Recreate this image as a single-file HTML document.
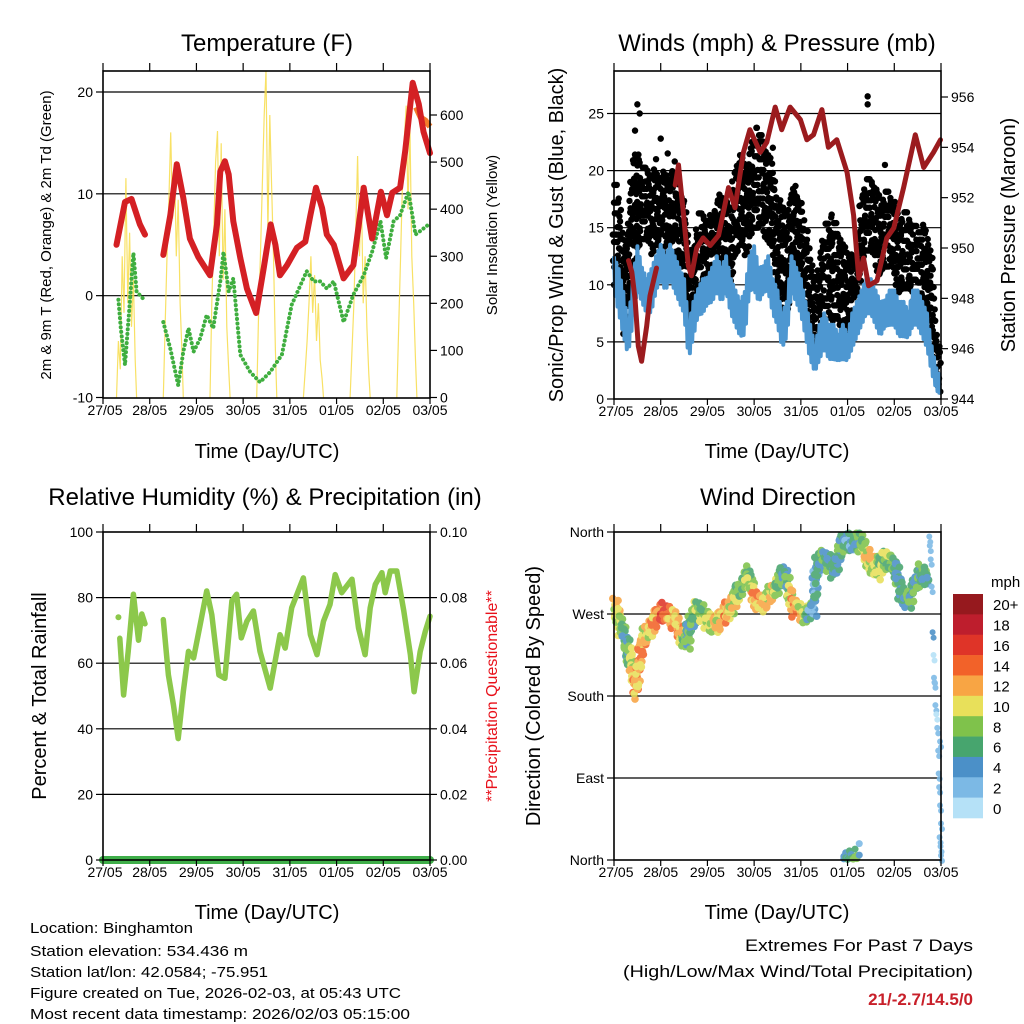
<!DOCTYPE html>
<html><head><meta charset="utf-8"><style>
html,body{margin:0;padding:0;background:#fff;}
svg{display:block;font-family:"Liberation Sans",sans-serif;}
</style></head><body>
<svg id="fig" width="1024" height="1024" viewBox="0 0 1024 1024"></svg>
<script>
// ---------- DATA ----------
const dayLabels = ["27/05","28/05","29/05","30/05","31/05","01/05","02/05","03/05"];
const tempDays = [0.29,0.47,0.61,0.79,0.9,null,1.29,1.44,1.58,1.72,1.86,2.04,2.29,2.44,2.51,2.61,2.69,2.79,2.94,3.08,3.28,3.44,3.59,3.69,3.79,3.94,4.15,4.33,4.44,4.56,4.69,4.79,4.94,5.15,5.36,5.58,5.76,5.95,6.08,6.19,6.36,6.47,6.63,6.76,6.86,7.0];
const tempVals = [5.0,9.2,9.5,7.0,6.0,null,4.0,7.9,12.9,9.6,5.6,3.8,2.0,7.0,12.2,13.2,11.9,7.3,3.7,0.7,-1.7,2.7,7.0,5.0,2.0,3.0,4.7,5.3,7.9,10.6,8.6,6.0,5.0,1.7,3.0,10.6,5.6,10.2,7.9,10.1,10.6,14.2,20.9,18.8,16.1,14.0];
const temp9Days = [6.7,6.8,6.9,7.0];
const temp9Vals = [18.5,17.5,17.2,16.6];
const dewDays = [0.33,0.38,0.47,0.58,0.65,0.72,0.86,null,1.29,1.44,1.61,1.72,1.83,1.94,2.08,2.22,2.36,2.51,2.58,2.69,2.79,2.94,3.15,3.36,3.58,3.83,4.04,4.36,4.51,4.65,4.79,4.94,5.15,5.36,5.58,5.76,5.94,6.06,6.22,6.36,6.54,6.69,6.86,7.0];
const dewVals = [-0.4,-3.2,-6.8,-0.3,4.2,0.4,-0.3,null,-2.6,-5.2,-8.8,-5.5,-3.2,-5.5,-4.2,-1.9,-3.2,1.4,4.3,0.4,1.7,-5.8,-7.5,-8.5,-7.5,-5.8,-0.9,2.4,1.4,1.4,0.7,1.4,-2.6,0.1,2.0,4.3,7.3,3.7,7.3,7.9,10.2,6.0,6.6,7.1];
const solarFrac = [0.29,0.33,0.37,0.41,0.45,0.49,0.53,0.57,0.61,0.65,0.69,0.72];
const solarD0 = [0,120,60,300,180,466,200,350,150,250,80,0];
const solarD1 = [0,150,300,420,563,380,500,300,420,200,100,0];
const solarD2 = [0,200,350,500,566,300,540,250,400,150,60,0];
const solarD3 = [0,180,300,450,600,694,350,600,450,300,100,0];
const solarD4 = [0,60,120,200,300,180,260,120,200,80,40,0];
const solarD5 = [0,100,200,350,513,300,450,200,300,150,50,0];
const solarD6 = [0,150,300,450,550,620,400,580,300,200,80,0];
const gustHi = [19,18,14,16,21,22,20,21,20,21,20,21,20,20,19,18,14,13,16,16,15,16,18,19,18,17,21,22,21,22,23,24,23,22,21,18,17,16,19,19,18,15,13,10,13,15,16,16,15,14,13,13,14,19,20,20,19,17,19,18,17,15,16,16,15,15,16,15,13,6,4];
const gustLo = [10,10,6,8,12,13,14,14,13,14,13,14,13,12,11,10,6,7,10,10,9,10,11,12,11,10,13,14,13,14,15,15,15,14,13,10,8,7,11,12,11,8,5,3,6,8,8,7,7,6,5,6,7,12,13,13,12,11,12,12,11,9,10,10,9,9,9,8,6,2,0];
const gustOutDays = [0.5,0.55,0.9,1.15,2.95,5.43,5.43,1.3,3.4,5.8,0.45,1.0];
const gustOutVals = [25.8,25.0,21.0,21.5,22.5,26.5,25.8,20.8,22.0,20.5,23.5,22.8];
const sonicHi = [13,12,10,7,11,14,12,11,12,13,14,13,14,13,12,11,7,9,10,11,11,12,13,12,13,11,10,9,10,13,14,12,12,13,11,10,8,9,13,12,11,9,7,5,7,8,7,7,6,7,6,8,9,10,11,11,10,9,9,10,10,9,9,8,10,10,9,8,5,3,2];
const sonicLo = [9,7,5,3.5,6,9,8,7,7,9,10,9,10,9,8,7,3,5,7,7,8,8,9,8,9,7,6,5,5,9,9,8,9,9,7,6,4,5,9,8,7,5,3,2,3,4,3,3,3,3,3,4,5,6,7,7,6,5,6,6,6,5,5,5,6,6,5,4,2,0.5,0];
const presDays = [0.31,0.38,0.45,0.52,0.59,0.7,0.77,0.91,null,1.31,1.38,1.49,1.59,1.66,1.77,1.91,2.06,2.24,2.45,2.59,2.77,2.91,3.13,3.27,3.45,3.59,3.77,3.99,4.13,4.27,4.45,4.59,4.77,4.99,5.13,5.24,5.34,5.45,5.63,5.84,5.99,6.2,6.45,6.63,6.84,6.99];
const presVals = [949.5,949.05,948.0,946.1,945.5,946.9,948.1,949.2,null,952.5,953.3,951.3,949.3,948.9,950.0,950.4,950.1,950.5,952.4,951.6,953.8,954.7,953.8,954.2,955.6,954.7,955.6,955.1,954.3,954.5,955.5,954.0,954.3,953.0,951.3,948.8,949.6,948.5,948.7,950.4,950.8,952.4,954.5,953.2,953.8,954.3];
const rhDays = [0.36,0.44,0.54,0.65,0.76,0.83,0.9,null,1.29,1.4,1.51,1.61,1.72,1.83,1.94,2.08,2.22,2.33,2.48,2.61,2.76,2.86,2.96,3.08,3.22,3.36,3.58,3.79,3.9,4.04,4.29,4.44,4.58,4.72,4.86,4.97,5.11,5.33,5.47,5.61,5.72,5.83,5.97,6.04,6.15,6.29,6.44,6.58,6.66,6.79,6.9,7.0];
const rhVals = [67.6,50.3,63.6,81,67,75,72,null,73.3,56.4,47.2,37,51.3,63.6,61.6,71.8,82,74.8,56.4,55.4,79,81,67.7,72.8,75.9,63.6,52.4,68.7,64.6,76.9,86,68.7,62.6,72.8,77.9,87,81.5,85.6,70.8,62.6,76.9,84,87.6,81.5,88.1,88.1,75.9,62.6,51.3,63.6,69.7,74.3];
const precipVals = [0,0];
const dirDays = [0.02,0.13,0.27,0.38,0.45,0.56,0.7,0.84,1.06,1.27,1.41,1.56,1.63,1.77,1.99,2.2,2.41,2.56,2.7,2.84,2.99,3.2,3.41,3.56,3.7,3.84,4.06,4.27,4.34,4.49,4.7,4.84,5.06,5.27,5.41,5.63,5.77,5.99,6.13,6.34,6.56,6.7];
const dirVals = [280,258,232,214,185,228,250,261,274,265,247,240,258,276,261,258,272,283,298,313,287,280,294,313,305,276,269,276,324,331,316,346,349,349,331,316,331,324,291,284,316,309];
const dirSpeed = [10,9,5,10,12,13,10,12,15,12,12,6,6,8,9,10,12,10,7,7,12,11,10,7,6,13,9,3,5,6,5,6,4,7,10,9,8,7,5,6,6,5];
const dirLateDays = [6.75,6.76,6.78,6.8,6.82,6.84,6.85,6.86,6.88,6.9,6.92,6.94,6.95,6.96,6.98,7.0,6.97,6.99,7.0,6.98];
const dirLateVals = [355,345,330,300,250,225,200,195,170,160,145,120,95,80,60,40,25,15,5,130];
const dirLateSpeed = [2,1,2,1,3,0,2,1,1,0,2,1,2,2,1,2,2,1,2,1];
const dirNorthDays = [4.92,4.96,5.0,5.04,5.08,5.12,5.16,5.2,5.25];
const dirNorthVals = [4,8,2,10,6,3,12,5,18];
const dirNorthSpeed = [3,4,4,5,4,6,6,7,2];
const speedColors = ["#b5e1f7","#7cb9e5","#4b90c8","#47a56e","#7fc24b","#e8e05a","#f8a544","#f26229","#df3428","#be1e2d","#96191e"];
const speedLabels = ["0","2","4","6","8","10","12","14","16","18","20+"];

// ---------- HELPERS ----------
const NS = "http://www.w3.org/2000/svg";
const svg = document.getElementById("fig");
function el(tag, attrs, parent){
  const e = document.createElementNS(NS, tag);
  for (const k in attrs) e.setAttribute(k, attrs[k]);
  (parent||svg).appendChild(e);
  return e;
}
function txt(s, x, y, size, anchor, extra){
  const t = el("text", Object.assign({x:x, y:y, "font-size":size, "text-anchor":anchor||"middle", fill:"#000"}, extra||{}));
  t.textContent = s;
  return t;
}
function panel(x0,x1,y0,y1){ return {x0,x1,y0,y1, sx:d=>x0+(x1-x0)*d/7}; }
function lin(v0,v1,p0,p1){ return v=>p0+(v-v0)*(p1-p0)/(v1-v0); }
function pathFrom(xs, ys, fx, fy){
  let d="", pen=false;
  for (let i=0;i<xs.length;i++){
    if (xs[i]===null || ys[i]===null){ pen=false; continue; }
    d += (pen?"L":"M") + fx(xs[i]).toFixed(1) + "," + fy(ys[i]).toFixed(1);
    pen=true;
  }
  return d;
}
function frame(P, name){
  const r = el("rect",{x:P.x0,y:P.y0,width:P.x1-P.x0,height:P.y1-P.y0,fill:"none",stroke:"#000","stroke-width":1.6});
  
  
}
function xAxis(P, name){
  const g = el("g",{});
  
  
  for (let i=0;i<dayLabels.length;i++){
    const x = P.sx(i);
    el("line",{x1:x,x2:x,y1:P.y1,y2:P.y1+6,stroke:"#000","stroke-width":1.2},g);
    el("line",{x1:x,x2:x,y1:P.y0,y2:P.y0-8,stroke:"#000","stroke-width":1.2},g);
    g.appendChild(txt(dayLabels[i], x+(i===0?2:0), P.y1+17, 14, "middle"));
  }
}
function hgrid(P, y, name){
  const l = el("line",{x1:P.x0,x2:P.x1,y1:y,y2:y,stroke:"#000","stroke-width":1.2});
  
  
}
function yTicks(P, vals, fy, side, labelFn, size, name){
  const g = el("g",{});
  
  
  vals.forEach(v=>{
    const y = fy(v);
    if (side==="left"){
      el("line",{x1:P.x0-7,x2:P.x0,y1:y,y2:y,stroke:"#000","stroke-width":1.2},g);
      g.appendChild(txt(labelFn(v), P.x0-10, y+5, size, "end"));
    } else {
      el("line",{x1:P.x1,x2:P.x1+7,y1:y,y2:y,stroke:"#000","stroke-width":1.2},g);
      g.appendChild(txt(labelFn(v), P.x1+10, y+5, size, "start"));
    }
  });
}
function vlabel(s, x, y, size, color, name){
  const t = txt(s, x, y, size, "middle", {transform:`rotate(-90 ${x} ${y})`, fill:color||"#000"});
  
  
}
function title(s,x,y,name){
  const t = txt(s,x,y,24,"middle");
  
  
}

// ---------- PANEL 1: TEMPERATURE ----------
const P1 = panel(103,430,71,398);
const tY = lin(-10,20,397.5,92);
const sY = lin(0,600,397.5,115);
title("Temperature (F)", 267, 51, "temperature-title");
[20,10,0].forEach(v=>hgrid(P1,tY(v),"temp-gridline-"+v));
const solarDays=[solarD0,solarD1,solarD2,solarD3,solarD4,solarD5,solarD6];
solarDays.forEach((arr,d)=>{
  const xs = solarFrac.map(f=>d+f);
  const p = el("path",{d:pathFrom(xs,arr,P1.sx,sY),fill:"none",stroke:"#f7dc4a","stroke-width":1.2,opacity:0.85});
  
  
});
const dewP = el("path",{d:pathFrom(dewDays,dewVals,P1.sx,tY),fill:"none",stroke:"#3fae3f","stroke-width":4,"stroke-dasharray":"0.1 4.5","stroke-linecap":"round","stroke-linejoin":"round"});


const t9 = el("path",{d:pathFrom(temp9Days,temp9Vals,P1.sx,tY),fill:"none",stroke:"#f47b2a","stroke-width":6,"stroke-linejoin":"round"});


const t2 = el("path",{d:pathFrom(tempDays,tempVals,P1.sx,tY),fill:"none",stroke:"#d42024","stroke-width":6,"stroke-linejoin":"round","stroke-linecap":"round"});


frame(P1,"temperature-plot-frame");
xAxis(P1,"temperature-x-axis");
yTicks(P1,[-10,0,10,20],tY,"left",v=>String(v),14,"temperature-y-axis");
yTicks(P1,[0,100,200,300,400,500,600],sY,"right",v=>String(v),14,"solar-y-axis");
vlabel("2m & 9m T (Red, Orange) & 2m Td (Green)",51,235,15,"#000","temperature-y-title");
vlabel("Solar Insolation (Yellow)",497,235,15,"#000","solar-y-title");
const xt1 = txt("Time (Day/UTC)",267,458,20,"middle");  

// ---------- PANEL 2: WINDS ----------
const P2 = panel(614,941,71,399);
const wY = lin(0,25,399,113.5);
const pY = lin(944,956,399,97);
title("Winds (mph) & Pressure (mb)", 777, 51, "winds-title");
[25,20,15,10,5].forEach(v=>hgrid(P2,wY(v),"wind-gridline-"+v));
const gg = el("g",{fill:"#000"});


const jit=[0,0.35,-0.3,0.15,-0.4,0.25];
for (let i=0;i<gustHi.length-1;i++){
  for (let s=0;s<4;s++){
    const f=s/4, d=(i+f)*0.1;
    const hi=gustHi[i]+(gustHi[i+1]-gustHi[i])*f, lo=gustLo[i]+(gustLo[i+1]-gustLo[i])*f;
    let k=0;
    for (let v=lo; v<=hi+0.01; v+=1.2){
      el("circle",{cx:(P2.sx(d)+jit[(k+s)%6]*3).toFixed(1),cy:wY(v+jit[(k+i)%6]).toFixed(1),r:3.2},gg);
      k++;
    }
  }
}
gustOutDays.forEach((d,i)=>{ el("circle",{cx:P2.sx(d),cy:wY(gustOutVals[i]),r:3.2},gg); });
let sd="";
for (let i=0;i<sonicHi.length-1;i++){
  for (let s=0;s<4;s++){
    const f=s/4, d=(i+f)*0.1;
    const hi=sonicHi[i]+(sonicHi[i+1]-sonicHi[i])*f, lo=sonicLo[i]+(sonicLo[i+1]-sonicLo[i])*f;
    const mid=(hi+lo)/2, half=(hi-lo)/2;
    const v = (s%2===0)? mid+half*0.75 : mid-half*0.75;
    sd += (sd?"L":"M")+P2.sx(d).toFixed(1)+","+wY(v).toFixed(1);
  }
}
const sp = el("path",{d:sd,fill:"none",stroke:"#4d97d1","stroke-width":4,"stroke-linejoin":"round"});


const pp = el("path",{d:pathFrom(presDays,presVals,P2.sx,pY),fill:"none",stroke:"#9b1b1e","stroke-width":5,"stroke-linejoin":"round","stroke-linecap":"round"});


frame(P2,"winds-plot-frame");
xAxis(P2,"winds-x-axis");
yTicks(P2,[0,5,10,15,20,25],wY,"left",v=>String(v),14,"wind-y-axis");
yTicks(P2,[944,946,948,950,952,954,956],pY,"right",v=>String(v),14,"pressure-y-axis");
vlabel("Sonic/Prop Wind & Gust (Blue, Black)",563,235,20,"#000","wind-y-title");
vlabel("Station Pressure (Maroon)",1015,235,20,"#000","pressure-y-title");
const xt2 = txt("Time (Day/UTC)",777,458,20,"middle");  

// ---------- PANEL 3: RH ----------
const P3 = panel(103,430,532,860);
const hY = lin(0,100,860,532);
const rY = lin(0,0.1,860,532);
title("Relative Humidity (%) & Precipitation (in)", 265, 505, "humidity-title");
[80,60,40,20].forEach(v=>hgrid(P3,hY(v),"rh-gridline-"+v));
const rdot = el("circle",{cx:P3.sx(0.33),cy:hY(74),r:3,fill:"#8cc84b"});


const rp = el("path",{d:pathFrom(rhDays,rhVals,P3.sx,hY),fill:"none",stroke:"#8cc84b","stroke-width":5.5,"stroke-linejoin":"round","stroke-linecap":"round"});


const prp = el("path",{d:pathFrom([0,7],precipVals,P3.sx,rY),fill:"none",stroke:"#3fae49","stroke-width":8,"stroke-linecap":"round"});


frame(P3,"humidity-plot-frame");
xAxis(P3,"humidity-x-axis");
yTicks(P3,[0,20,40,60,80,100],hY,"left",v=>String(v),14,"rh-y-axis");
yTicks(P3,[0,0.02,0.04,0.06,0.08,0.1],rY,"right",v=>v.toFixed(2),14,"precip-y-axis");
vlabel("Percent & Total Rainfall",46,696,20,"#000","rh-y-title");
vlabel("**Precipitation Questionable**",497,696,16,"#e8101a","precip-y-title");
const xt3 = txt("Time (Day/UTC)",267,919,20,"middle");  

// ---------- PANEL 4: WIND DIRECTION ----------
const P4 = panel(614,941,532,860);
const dY = lin(0,360,860,532);
title("Wind Direction", 778, 505, "wind-direction-title");
[270,180,90].forEach(v=>hgrid(P4,dY(v),"dir-gridline-"+v));
function spColor(s){ return speedColors[Math.max(0,Math.min(10,Math.round(s/2)))]; }
const dg = el("g",{opacity:0.88});


const djit=[0,4,-4,8,-7,2,-2,6];
for (let i=0;i<dirDays.length-1;i++){
  for (let s=0;s<8;s++){
    const f=s/8;
    const d=dirDays[i]+(dirDays[i+1]-dirDays[i])*f;
    const v=dirVals[i]+(dirVals[i+1]-dirVals[i])*f;
    const spd=dirSpeed[i]+(dirSpeed[i+1]-dirSpeed[i])*f;
    for (let k=0;k<3;k++){
      el("circle",{cx:(P4.sx(d)+djit[(s+k*3)%8]*0.4).toFixed(1),cy:dY(Math.min(360,v+djit[(s*2+k+i)%8]*1.2)).toFixed(1),r:3.8,fill:spColor(spd+(k===1?1.5:(k===2?-2:0)))},dg);
    }
  }
}
dirLateDays.forEach((d,i)=>{ el("circle",{cx:P4.sx(d),cy:dY(dirLateVals[i]),r:3,fill:spColor(dirLateSpeed[i])},dg); el("circle",{cx:P4.sx(d)+1,cy:dY(dirLateVals[i]-6),r:3,fill:spColor(dirLateSpeed[i])},dg); });
dirNorthDays.forEach((d,i)=>{ el("circle",{cx:P4.sx(d),cy:dY(dirNorthVals[i]),r:3.5,fill:spColor(dirNorthSpeed[i])},dg); el("circle",{cx:P4.sx(d),cy:dY(dirNorthVals[i]*0.3),r:3.5,fill:spColor(dirNorthSpeed[i]+1)},dg); });
frame(P4,"wind-direction-plot-frame");
xAxis(P4,"wind-direction-x-axis");
const dirTickVals=[0,90,180,270,360];
const dirTickLabels=["North","East","South","West","North"];
yTicks(P4,dirTickVals,dY,"left",v=>dirTickLabels[dirTickVals.indexOf(v)],14,"direction-y-axis");
vlabel("Direction (Colored By Speed)",540,696,20,"#000","direction-y-title");
const xt4 = txt("Time (Day/UTC)",777,919,20,"middle");  
const cb = el("g",{});


const cbTop=594, cbH=(818-594)/11;
for (let i=0;i<11;i++){
  const idx=10-i;
  el("rect",{x:953,y:cbTop+i*cbH,width:30,height:cbH+0.3,fill:speedColors[idx]},cb);
  cb.appendChild(txt(speedLabels[idx],993,cbTop+i*cbH+cbH/2+6,15,"start"));
}
cb.appendChild(txt("mph",991,587,15,"start"));

// ---------- FOOTER ----------
const foot = [["Location: Binghamton",163,933],["Station elevation: 534.436 m",218,956],["Station lat/lon: 42.0584; -75.951",238,977],["Figure created on Tue, 2026-02-03, at 05:43 UTC",371,998],["Most recent data timestamp: 2026/02/03 05:15:00",380,1019]];
foot.forEach((f,i)=>{
  const t = txt(f[0],30,f[2],15,"start",{textLength:f[1],lengthAdjust:"spacingAndGlyphs"});
  
  
});
const e1 = txt("Extremes For Past 7 Days",973,951,17,"end",{textLength:228,lengthAdjust:"spacingAndGlyphs"});


const e2 = txt("(High/Low/Max Wind/Total Precipitation)",973,977,17,"end",{textLength:350,lengthAdjust:"spacingAndGlyphs"});


const e3 = txt("21/-2.7/14.5/0",973,1005,17,"end",{fill:"#c8202a","font-weight":"bold"});


</script>
</body></html>
